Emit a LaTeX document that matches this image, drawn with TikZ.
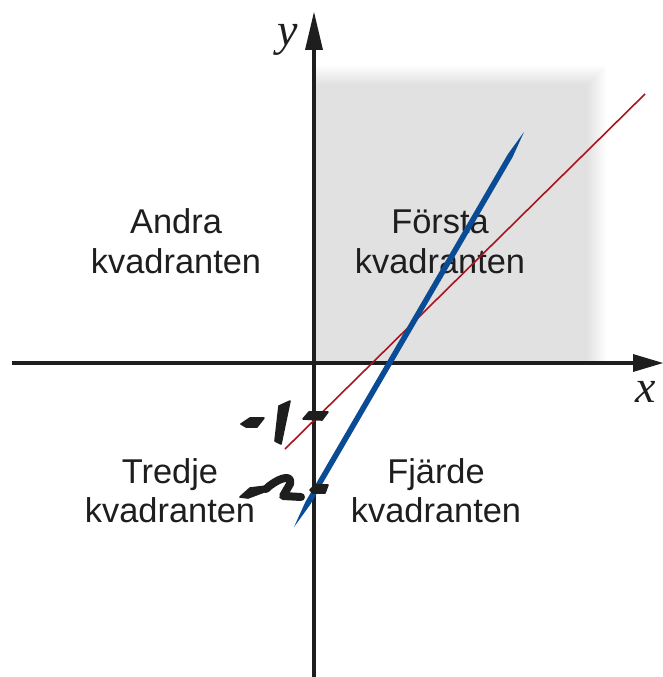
\documentclass[tikz,border=0pt]{standalone}
\usepackage{fontspec}
\setmainfont{Liberation Sans}
\newfontfamily\axisfont{Liberation Serif}
\usetikzlibrary{calc}
\definecolor{lineblue}{HTML}{0A4B96}
\definecolor{linered}{HTML}{AA141E}
\definecolor{ink}{HTML}{1E1E1E}
\tikzset{
  quadtext/.style={anchor=base, inner sep=0pt, text=ink, font=\fontsize{34.4}{40}\selectfont},
  axislabel/.style={inner sep=0pt, text=ink, font=\axisfont\itshape\fontsize{46}{46}\selectfont},
  axisline/.style={draw=ink, line width=3.5pt},
  handmark/.style={fill=ink, draw=ink, line width=1.6pt, line join=round},
}
\begin{document}
\begin{tikzpicture}[x=1pt,y=-1pt]
\useasboundingbox (0,0) rectangle (663,677);
% shaded first quadrant with soft edges
\foreach \i in {0,...,9}{
  \fill[black, opacity=0.0108] (316,{84-2*\i}) rectangle ({588+2*\i},361);
}
% axes
\coordinate (xs) at (12,363);
\coordinate (xe) at (634,363);
\coordinate (ys) at (314,677);
\coordinate (ye) at (314,48);
\draw[axisline] (xs) -- (xe);
\draw[axisline] (ys) -- (ye);
\fill[ink] (663,363) -- (633,354) -- (633,372) -- cycle;
\fill[ink] (314,12) -- (305,50) -- (323,50) -- cycle;
\node[axislabel] (ylab) at (288,40) {y};
\node[axislabel] (xlab) at (646,392) {x};
% quadrant labels
\node[quadtext] (a1) at (176,233) {Andra};
\node[quadtext] (a2) at (176,273) {kvadranten};
\node[quadtext] (f1) at (440,233) {Första};
\node[quadtext] (f2) at (440,273) {kvadranten};
\node[quadtext] (t1) at (170,483) {Tredje};
\node[quadtext] (t2) at (170,522) {kvadranten};
\node[quadtext] (j1) at (436,483) {Fjärde};
\node[quadtext] (j2) at (436,522) {kvadranten};
% lines
\coordinate (ra) at (285,449);
\coordinate (rb) at (645,94);
\draw[linered, line width=1.6pt] (ra) -- (rb);
\coordinate (ba) at (294,527);
\coordinate (bb) at (524,132);
\fill[lineblue] (ba) -- ($(ba)!0.06!(bb)+(2.4,1.4)$) -- ($(ba)!0.94!(bb)+(2.4,1.4)$) -- (bb)
  -- ($(ba)!0.94!(bb)-(2.4,1.4)$) -- ($(ba)!0.06!(bb)-(2.4,1.4)$) -- cycle;
% handwritten -1
\filldraw[handmark] (241,424) -- (250,418) -- (264,418) -- (257,427) -- (246,427) -- cycle;
\filldraw[handmark] (279,406) -- (290,401) -- (281,444) -- (275,441) -- cycle;
\filldraw[handmark] (303,419) -- (309,412) -- (328,412) -- (322,420) -- cycle;
% handwritten -2
\filldraw[handmark] (240,497) -- (250,488) -- (267,486) -- (264,492) -- (248,498) -- cycle;
\draw[ink, line width=8pt, line join=round, line cap=round] (266,489) .. controls (275,480) and (293,472) .. (290,484) -- (283,496) -- (301,497);
\filldraw[handmark] (310,490) -- (315,485) -- (328,485) -- (325,493) -- (313,493) -- cycle;
\end{tikzpicture}
\end{document}
